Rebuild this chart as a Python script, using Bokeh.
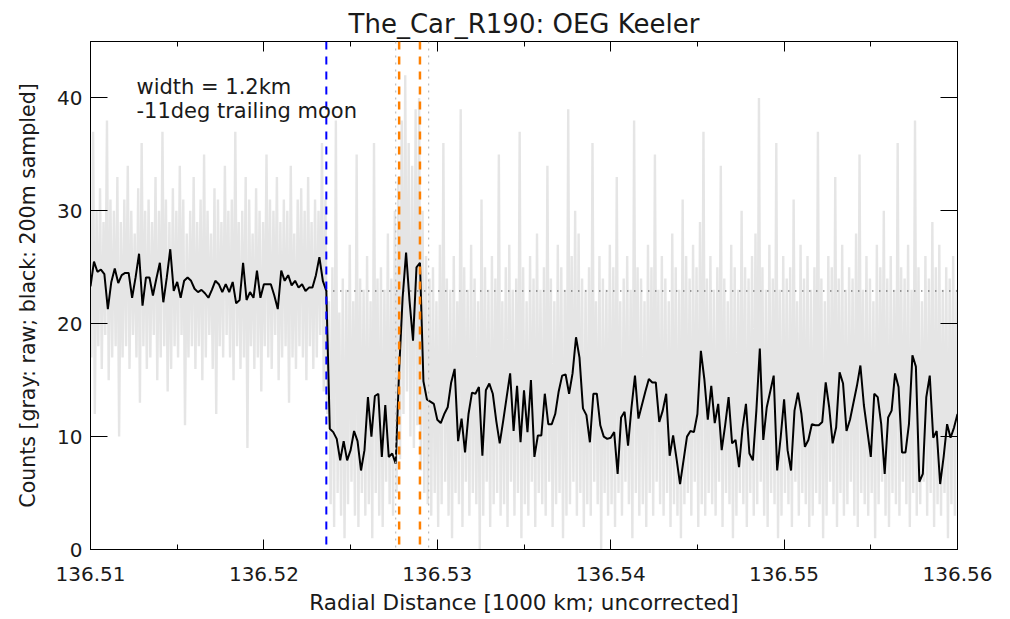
import numpy as np
from bokeh.plotting import figure
from bokeh.models import (Range1d, FixedTicker, LinearAxis, Span, Label,
                          PrintfTickFormatter)
from bokeh.embed import file_html
from bokeh.resources import INLINE

# ---------------- texts ----------------
TITLE = "The_Car_R190: OEG Keeler"
XLABEL = "Radial Distance [1000 km; uncorrected]"
YLABEL = "Counts [gray: raw; black: 200m sampled]"
ANNOT = ["width = 1.2km", "-11deg trailing moon"]

# ---------------- ticks ----------------
x_ticks = [136.51, 136.52, 136.53, 136.54, 136.55, 136.56]
x_minor = [136.515, 136.525, 136.535, 136.545, 136.555]
y_ticks = [0, 10, 20, 30, 40]

# ---------------- data ----------------
x_start = 136.51        # first sample [1000 km]
step = 0.0002           # 200 m sampling

black_counts = [
    23.3, 25.5, 24.6, 24.8, 24.4, 21.3, 23.7, 24.9, 23.6, 24.3,
    24.5, 24.5, 22.3, 24.1, 26.2, 21.6, 24.1, 24.1, 22.5, 24.0,
    25.4, 21.9, 24.1, 26.6, 22.9, 23.7, 22.3, 23.8, 24.1, 23.8,
    23.1, 22.8, 23.0, 22.7, 22.3, 23.0, 23.8, 23.5, 22.8, 23.5,
    22.8, 23.7, 21.8, 22.1, 25.4, 22.1, 22.8, 22.3, 24.7, 22.3,
    23.5, 23.5, 23.5, 22.5, 21.3, 24.7, 23.8, 24.3, 23.4, 23.8,
    23.2, 23.5, 22.9, 23.2, 23.2, 24.3, 25.9, 23.8, 22.9,
    10.7, 10.4, 9.8, 7.9, 9.6, 7.9, 8.8, 10.5, 9.6, 7.0,
    8.8, 13.5, 10.0, 13.6, 13.8, 8.2, 12.8, 8.2, 8.5, 7.6,
    15.9, 22.3, 26.3, 22.0, 18.5, 25.0, 25.4, 14.9, 13.3, 13.1,
    12.9, 11.5, 11.2, 12.0, 12.6, 14.8, 16.0, 9.6, 11.6, 8.6,
    12.0, 13.9, 13.8, 14.4, 8.3, 14.1, 14.7, 13.8, 11.4, 9.4,
    11.4, 13.5, 15.6, 10.5, 14.5, 9.5, 14.1, 10.4, 15.0, 8.2,
    10.1, 10.1, 13.8, 11.1, 11.1, 12.0, 14.0, 15.4, 15.5, 13.8,
    15.6, 18.8, 17.0, 12.5, 11.9, 9.5, 13.8, 13.8, 11.0, 10.0,
    9.8, 9.9, 10.4, 6.7, 11.7, 12.2, 9.2, 12.6, 15.4, 11.6,
    12.8, 14.0, 15.1, 14.8, 14.8, 11.3, 12.3, 13.8, 8.3, 10.1,
    8.0, 5.8, 7.9, 10.0, 10.5, 10.4, 12.0, 17.6, 15.1, 11.5,
    14.5, 11.2, 12.9, 8.8, 11.0, 13.5, 9.4, 9.7, 7.3, 10.7,
    12.9, 8.5, 7.9, 12.3, 17.8, 9.7, 12.6, 14.0, 15.4, 7.0,
    9.9, 13.3, 8.8, 7.0, 12.3, 13.9, 12.0, 9.1, 9.7, 11.1,
    11.0, 11.0, 11.3, 14.8, 12.6, 9.4, 10.8, 15.7, 14.7, 10.5,
    11.5, 13.0, 14.5, 16.3, 12.8, 10.5, 8.2, 13.8, 13.5, 11.1,
    6.7, 11.7, 12.3, 15.6, 14.4, 8.6, 8.6, 11.1, 17.2, 16.2,
    6.0, 6.7, 13.5, 15.4, 9.9, 10.5, 5.8, 8.2, 11.1, 9.9,
    10.8, 12.0,
]

# raw counts: highest / lowest raw value inside each 200 m bin
raw_hi = [
    31, 37, 30, 32, 29, 38, 31, 30, 33, 29,
    31, 34, 30, 28, 32, 36, 30, 31, 29, 33,
    30, 37, 31, 29, 32, 30, 34, 31, 28, 30,
    33, 29, 31, 35, 30, 28, 32, 31, 29, 34,
    30, 31, 37, 29, 30, 33, 31, 28, 32, 30,
    29, 35, 31, 30, 33, 29, 31, 30, 34, 28,
    31, 32, 30, 33, 29, 31, 30, 36, 31,
    22, 25, 38, 21, 24, 23, 27, 22, 35, 24,
    23, 26, 22, 36, 24, 25, 23, 28, 24, 30,
    33, 38, 42, 36, 34, 39, 40, 30, 26, 24,
    25, 22, 27, 36, 24, 23, 26, 22, 39, 25,
    23, 27, 24, 22, 31, 25, 23, 26, 24, 35,
    22, 25, 27, 23, 24, 37, 25, 22, 26, 24,
    28, 23, 25, 34, 24, 22, 27, 25, 23, 39,
    26, 30, 28, 24, 23, 25, 36, 22, 26, 24,
    23, 27, 25, 33, 22, 24, 26, 23, 38, 25,
    24, 22, 27, 25, 35, 23, 26, 24, 22, 28,
    25, 23, 31, 26, 24, 27, 25, 29, 37, 24,
    26, 23, 25, 34, 24, 22, 27, 25, 23, 30,
    25, 24, 26, 28, 40, 25, 23, 27, 24, 36,
    23, 26, 24, 25, 31, 22, 27, 24, 26, 23,
    25, 37, 24, 22, 26, 25, 33, 24, 27, 23,
    25, 24, 28, 35, 23, 26, 24, 22, 27, 25,
    30, 24, 26, 23, 36, 25, 24, 27, 23, 38,
    25, 22, 26, 24, 29, 25, 27, 23, 25, 24,
    26, 23,
]
raw_lo = [
    17, 12, 18, 16, 19, 15, 17, 18, 10, 17,
    18, 16, 19, 17, 13, 18, 16, 17, 19, 15,
    17, 18, 14, 16, 18, 17, 19, 11, 17, 18,
    16, 18, 15, 17, 19, 16, 12, 18, 17, 19,
    17, 15, 18, 16, 17, 9, 18, 16, 17, 14,
    18, 17, 16, 19, 15, 17, 18, 13, 17, 16,
    18, 17, 15, 18, 16, 17, 19, 14, 12,
    4, 2, 5, 3, 1, 4, 6, 3, 2, 5,
    3, 4, 1, 5, 3, 2, 6, 4, 3, 5,
    8, 12, 14, 10, 9, 11, 7, 5, 4, 3,
    5, 2, 4, 6, 3, 1, 5, 4, 2, 6,
    3, 5, 4, 0, 3, 6, 2, 4, 5, 3,
    4, 2, 6, 3, 5, 1, 4, 3, 6, 2,
    5, 4, 3, 6, 2, 4, 5, 1, 3, 4,
    6, 3, 5, 2, 4, 3, 6, 4, 0, 5,
    3, 4, 2, 5, 3, 6, 4, 1, 5, 3,
    4, 2, 5, 3, 6, 4, 3, 5, 2, 4,
    3, 1, 4, 5, 3, 6, 2, 4, 3, 5,
    4, 3, 6, 2, 5, 4, 1, 3, 5, 4,
    2, 5, 3, 4, 6, 3, 2, 5, 4, 1,
    3, 5, 4, 2, 6, 3, 5, 4, 2, 3,
    5, 4, 1, 3, 6, 4, 2, 5, 3, 4,
    6, 3, 2, 5, 4, 3, 5, 1, 4, 6,
    3, 2, 5, 4, 3, 6, 4, 2, 5, 3,
    4, 6, 3, 5, 2, 4, 3, 5, 1, 4,
    3, 5,
]

edge_blue = 136.5236                 # inner edge (blue)
edges_orange = [136.5278, 136.5290]  # ringlet edges (orange)
edges_gray = [136.5276, 136.5295]    # dotted gray markers
baseline_level = 22.9                # unocculted level (dotted)
x_end = 136.56

# ---------------- figure ----------------
FONT = "DejaVu Sans"
TXT = "#1a1a1a"
p = figure(width=1002, height=619,
           x_range=Range1d(136.51, x_end), y_range=Range1d(0, 45),
           output_backend="svg", toolbar_location=None,
           min_border_left=90, min_border_right=45,
           min_border_top=41, min_border_bottom=70)
p.grid.visible = False
p.outline_line_color = "black"
p.outline_line_width = 1
p.background_fill_color = "white"
p.border_fill_color = "white"

p.title.text = TITLE
p.title.align = "center"
p.title.text_font = FONT
p.title.text_font_size = "26px"
p.title.text_font_style = "normal"
p.title.text_color = TXT
p.title.standoff = 6

xt = FixedTicker(ticks=x_ticks, minor_ticks=x_minor)
yt = FixedTicker(ticks=y_ticks, minor_ticks=[])

bottom_ax = p.xaxis[0]
left_ax = p.yaxis[0]
bottom_ax.ticker = xt
bottom_ax.formatter = PrintfTickFormatter(format="%.2f")
bottom_ax.axis_label = XLABEL
left_ax.ticker = yt
left_ax.formatter = PrintfTickFormatter(format="%d")
left_ax.axis_label = YLABEL

# mirrored axes: ticks only, labels not drawn
top_ax = LinearAxis(ticker=xt, major_label_standoff=0,
                    major_label_text_font_size="0px",
                    major_label_text_color=None)
right_ax = LinearAxis(ticker=yt, major_label_standoff=0,
                      major_label_text_font_size="0px",
                      major_label_text_color=None)
p.add_layout(top_ax, "above")
p.add_layout(right_ax, "right")

for ax in (bottom_ax, top_ax):
    ax.major_tick_in = 10
    ax.major_tick_out = 0
    ax.minor_tick_in = 5
    ax.minor_tick_out = 0
    ax.minor_tick_line_color = "black"
for ax in (left_ax, right_ax):
    ax.major_tick_in = 17
    ax.major_tick_out = 0
    ax.minor_tick_in = 0
    ax.minor_tick_out = 0
    ax.minor_tick_line_color = None
for ax in (bottom_ax, top_ax, left_ax, right_ax):
    ax.axis_line_color = "black"
    ax.major_tick_line_color = "black"

for ax in (bottom_ax, left_ax):
    ax.major_label_text_font = FONT
    ax.axis_label_text_font = FONT
    ax.axis_label_text_font_style = "normal"
    ax.major_label_text_color = TXT
    ax.axis_label_text_color = TXT
    ax.major_label_text_font_size = "20px"

bottom_ax.axis_label_text_font_size = "21.5px"
bottom_ax.major_label_standoff = 17
bottom_ax.axis_label_standoff = 6
left_ax.axis_label_text_font_size = "20.5px"
left_ax.major_label_standoff = 8
left_ax.axis_label_standoff = 14

# raw data (gray): zig-zag between bin maxima and minima
raw_x, raw_y = [], []
for i, (h, l) in enumerate(zip(raw_hi, raw_lo)):
    xc = x_start + step * i
    raw_x += [xc - step / 4, xc + step / 4]
    raw_y += [h, l]
p.line(raw_x, raw_y, line_color="#e5e5e5", line_width=2.4)

# dotted gray markers
for xv in edges_gray:
    p.add_layout(Span(location=xv, dimension="height", line_color="#bdbdbd",
                      line_width=1.2, line_dash="2 5"))

# unocculted level
p.segment(x0=[edge_blue], y0=[baseline_level], x1=[x_end], y1=[baseline_level],
          line_color="black", line_width=1, line_dash="1 6")

# 200 m sampled data
bx = x_start + step * np.arange(len(black_counts))
p.line(bx, black_counts, line_color="black", line_width=2)

# edges
p.add_layout(Span(location=edge_blue, dimension="height", line_color="#0000ff",
                  line_width=2, line_dash="8 7"))
for xv in edges_orange:
    p.add_layout(Span(location=xv, dimension="height", line_color="#ff8000",
                      line_width=2.5, line_dash="8 7"))

# annotation
p.add_layout(Label(x=136.51265, y=41.0, text=ANNOT[0], text_font=FONT,
                   text_font_size="21px", text_baseline="middle",
                   text_color=TXT))
p.add_layout(Label(x=136.51265, y=38.8, text=ANNOT[1], text_font=FONT,
                   text_font_size="21px", text_baseline="middle",
                   text_color=TXT))

open("out.html", "w").write(file_html(p, INLINE))
